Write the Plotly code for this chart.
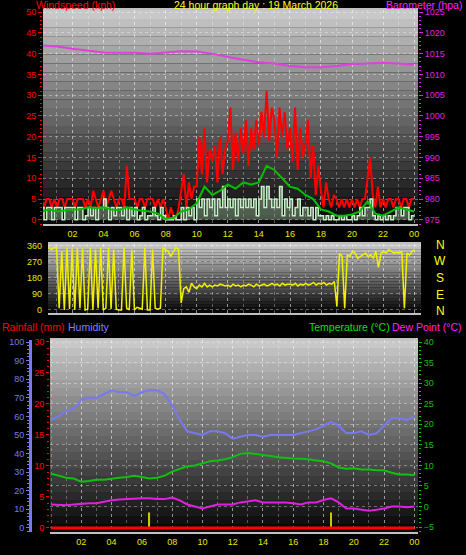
import numpy as np
import plotly.graph_objects as go

# ---- data ----
gust = [5,3,5,5,3,5, 3,5,5,3,5,5, 5,3,5,5,5,3, 5,3,7,5,3,5, 7,3,5,7,5,3, 5,5,3,13,5,5,
        5,3,5,5,3,5, 5,5,3,5,3,5, 3,0,3,1,0,3, 7,11,3,9,5,8, 8,20,11,22,9,17, 14,18,9,20,11,17,
        19,27,12,21,14,22, 16,24,13,22,17,24, 18,26,20,31,19,27, 24,15,27,20,26,17,
        22,14,27,12,22,15, 18,24,10,18,6,13, 7,3,9,5,3,6, 5,3,5,3,5,3, 5,3,5,3,5,5,
        10,15,6,3,8,3, 5,3,5,5,3,5, 5,3,5,5,3,5, 5]
avg_wind = [3,0,3,3,0,3, 3,3,0,3,3,3, 3,0,3,3,0,1, 3,1,3,0,3,3, 5,3,0,3,1,3, 3,1,3,0,3,1,
            3,0,1,3,0,1, 1,3,1,0,3,1, 0,0,0,1,0,0, 3,0,3,1,3,0, 5,3,5,1,5,3, 5,1,5,3,8,3,
            5,3,5,1,5,3, 5,3,5,3,5,1, 5,8,3,8,5,3, 5,3,8,1,5,3, 5,1,3,5,1,3, 3,1,3,0,3,1,
            1,0,1,0,1,0, 0,1,0,1,0,0, 1,0,1,3,1,3, 3,5,1,0,1,0, 1,0,1,0,1,3, 3,1,3,3,0,1, 1]
wind_10min = [2,2.5,2,2.3,2.5,2.5,3,2.8,3,2.5,2.3,3,2.5,2.2,2,1.5,0.2,0.5,2,2.5,4,8,6,7,
              8.5,7.5,9,8.5,9,13,12,10,8,7.5,6,5,2.5,2,1,1,1.3,2,4.5,1.5,1,2,3,2.5,2]
baro = [1017.0,1016.7,1016.2,1015.7,1015.3,1015.2,1015.2,1015.0,1015.3,1015.6,1015.5,1015.0,
        1014.2,1013.6,1012.9,1012.6,1012.0,1011.7,1011.7,1012.0,1012.5,1012.6,1012.8,1012.6,1012.3]
wind_dir = [0,350,345,350,340,350, 350,10,330,0,350,5, 345,0,350,10,345,0, 5,350,0,340,10,350,
            0,10,350,5,340,5, 0,0,350,10,0,340, 0,15,10,5,350,0, 0,340,10,5,10,350,
            340,330,300,330,350,340, 40,120,130,100,150,130, 120,140,130,150,130,140,
            130,140,135,145,140,135, 140,130,145,135,140,130, 140,135,145,140,130,145,
            135,140,145,135,140,150, 140,145,135,150,140,145, 145,140,150,135,145,140,
            150,140,145,155,140,150, 145,155,140,150,145,160, 20,320,300,10,310,300,
            330,320,290,300,310,320, 300,310,290,330,240,320, 330,320,340,330,320,325,
            320,330,10,320,310,330, 340]
humidity = [58,60,63,64,69,70,70,72,74,73,73,71,73,74,74,72,66,58,52,51,50,52,52,51,48,49,
            50,50,49,50,50,50,50,51,52,53,55,57,55,51,51,52,50,51,55,59,59,58,60]
temperature = [8,7.5,7,6.8,6,6.2,6.5,6.5,6.8,7,7.2,7.5,7.2,6.8,7,7.5,8.5,9.2,9.8,10,10.5,11,
               11.2,11.5,12,12.8,13,12.8,12.5,12.3,12,11.8,11.7,11.6,11.5,11.2,11,10.5,9.5,
               9.2,9.3,9,9,8.8,8.8,8.2,7.8,7.8,7.6]
dew_point = [0.5,0.4,0.3,0.5,0.7,0.8,0.8,1.2,1.5,1.7,1.8,2,2,2,1.8,1.8,2.2,1.5,0.5,0,-0.5,0,
             0.5,0.5,0.5,1,1.2,1.5,1,1,1,1,0.8,0.5,1,1,1.6,2,1,-0.5,-0.5,-0.8,-1,-0.8,-0.5,
             0,0,-0.2,0]
rain_hours = [6.5, 18.5]
rain_marks = [2.5, 2.5]

t10 = np.arange(len(gust)) / 6
t30 = np.arange(len(humidity)) / 2
t60 = np.arange(len(baro))

fig = go.Figure()

# top panel
fig.add_trace(go.Scatter(x=t10, y=gust, mode="lines", line=dict(color="#ff0000", width=2), xaxis="x", yaxis="y"))
fig.add_trace(go.Scatter(x=t10, y=avg_wind, mode="lines", line=dict(color="#c8f0c8", width=1.5, shape="hv"),
                         fill="tozeroy", fillcolor="rgba(200,240,200,0.35)", xaxis="x", yaxis="y"))
fig.add_trace(go.Scatter(x=t30, y=wind_10min, mode="lines", line=dict(color="#00c000", width=2), xaxis="x", yaxis="y"))
fig.add_trace(go.Scatter(x=t60, y=baro, mode="lines", line=dict(color="#e040e0", width=2), xaxis="x", yaxis="y2"))
# middle panel
fig.add_trace(go.Scatter(x=t10, y=wind_dir, mode="lines", line=dict(color="#f0f000", width=1.5), xaxis="x3", yaxis="y3"))
# bottom panel
fig.add_trace(go.Scatter(x=t30, y=humidity, mode="lines", line=dict(color="#7878f0", width=2), xaxis="x4", yaxis="y4"))
fig.add_trace(go.Scatter(x=[0, 24], y=[0, 0], mode="lines", line=dict(color="#ff0000", width=3), xaxis="x4", yaxis="y5"))
fig.add_trace(go.Bar(x=rain_hours, y=rain_marks, width=0.08, marker=dict(color="#c8c800", line_width=0), xaxis="x4", yaxis="y5"))
fig.add_trace(go.Scatter(x=t30, y=temperature, mode="lines", line=dict(color="#10c010", width=2), xaxis="x4", yaxis="y6"))
fig.add_trace(go.Scatter(x=t30, y=dew_point, mode="lines", line=dict(color="#e020e0", width=2), xaxis="x4", yaxis="y6"))

W, H = 466, 555
def px(x): return x / W
def py(y): return 1 - y / H

tickv = list(range(2, 25, 2))
tickt = ["%02d" % (h % 24) for h in tickv]
fnt = dict(family="Liberation Sans", size=9)
grid = dict(showgrid=True, gridcolor="rgba(255,255,255,0.35)", griddash="dot", gridwidth=1)

def xax(dom, rng, anchor, showlabels=True):
    return dict(domain=dom, range=rng, anchor=anchor, tickvals=tickv, ticktext=tickt, automargin=False,
                showticklabels=showlabels, tickfont=dict(fnt, color="#e8e800"), ticks="",
                minor=dict(dtick=1, tick0=0, showgrid=True, gridcolor="rgba(255,255,255,0.3)", griddash="dot"),
                zeroline=False, showline=True, linecolor="#c0c0c0", mirror=True, linewidth=2, **grid)

fig.update_layout(
    width=W, height=H, margin=dict(l=0, r=0, t=0, b=0), showlegend=False,
    paper_bgcolor="#000000", plot_bgcolor="#000000", barmode="overlay",
    xaxis=xax([px(43), px(418)], [0.1, 24.25], "y"),
    yaxis=dict(domain=[py(224), py(10)], range=[-1, 50.5], dtick=5, tickfont=dict(fnt, color="#ff0000"),
               ticks="outside", tickcolor="#ff0000", ticklen=4, zeroline=False, automargin=False,
               minor=dict(dtick=1, ticks="outside", ticklen=2, tickcolor="#ff0000", showgrid=False), **grid),
    yaxis2=dict(overlaying="y", side="right", anchor="x", range=[974, 1025.5], dtick=5, showgrid=False,
                tickfont=dict(fnt, color="#e020e0"), ticks="outside", tickcolor="#e020e0", ticklen=4,
                automargin=False, minor=dict(dtick=1, ticks="outside", ticklen=2, tickcolor="#e020e0")),
    xaxis3=xax([px(48), px(421)], [0.45, 24.4], "y3", False),
    yaxis3=dict(domain=[py(313), py(244)], range=[-17, 371], tickvals=[0, 90, 180, 270, 360],
                tickfont=dict(fnt, color="#e8e800"), ticks="", zeroline=False, automargin=False, **grid),
    xaxis4=xax([px(50), px(418)], [-0.07, 24.24], "y6"),
    yaxis4=dict(domain=[py(532), py(340)], range=[-2.2, 101.1], dtick=10, anchor="free", position=px(30),
                showline=True, linecolor="#7878f0", linewidth=3, tickfont=dict(fnt, color="#7878f0"),
                ticks="outside", tickcolor="#7878f0", ticklen=3, zeroline=False, showgrid=False, automargin=False,
                minor=dict(dtick=2, ticks="outside", ticklen=2, tickcolor="#7878f0")),
    yaxis5=dict(overlaying="y4", anchor="x4", side="left", range=[-0.65, 30.3], dtick=5, showgrid=False,
                zeroline=False, tickfont=dict(fnt, color="#ff0000"), ticks="outside", tickcolor="#ff0000", ticklen=3,
                automargin=False, minor=dict(dtick=1, ticks="outside", ticklen=2, tickcolor="#ff0000")),
    yaxis6=dict(overlaying="y4", anchor="x4", side="right", range=[-6.2, 40.5], dtick=5, zeroline=False,
                tickfont=dict(fnt, color="#10c010"), ticks="outside", tickcolor="#10c010", ticklen=3,
                automargin=False, minor=dict(dtick=1, ticks="outside", ticklen=2, tickcolor="#10c010"), **grid),
)

# grey gradient backgrounds
shapes = []
nb = 24
for xr, yr in [("x", "y"), ("x3", "y3"), ("x4", "y4")]:
    for i in range(nb):
        g = int(200 * (1 - i / nb))
        shapes.append(dict(type="rect", xref=xr + " domain", yref=yr + " domain", x0=0, x1=1,
                           y0=1 - (i + 1) / nb, y1=1 - i / nb, fillcolor="rgb(%d,%d,%d)" % (g, g, g),
                           line_width=0, layer="below"))
fig.update_layout(shapes=shapes)

tf = dict(family="Liberation Sans", size=10.5)
def label(x, y, text, color, anchor="left", size=10.5):
    fig.add_annotation(x=px(x), y=py(y), xref="paper", yref="paper", text=text, showarrow=False,
                       xanchor=anchor, yanchor="middle", font=dict(tf, color=color, size=size))

label(34, 5, "Windspeed (kph)", "#ff0000")
label(256, 5, "24 hour graph day : 19 March 2026", "#ffff00", "center")
label(464, 5, "Barometer (hpa)", "#ff20ff", "right")
label(0, 327, "Rainfall (mm)", "#ff0000")
label(66, 327, "Humidity", "#8080ff")
label(392, 327, "Temperature (°C)", "#10e010", "right")
label(464, 327, "Dew Point (°C)", "#ff20ff", "right")
for lt, yy in zip(["N", "W", "S", "E", "N"], [245, 261, 278, 295, 311]):
    label(440, yy, lt, "#ffff00", "center", 12)

# page margin off so the chart sits at the window's corner
fig.write_html("out.html", config={"displayModeBar": False},
               post_script="document.body.style.margin='0';document.body.style.background='#000';")
